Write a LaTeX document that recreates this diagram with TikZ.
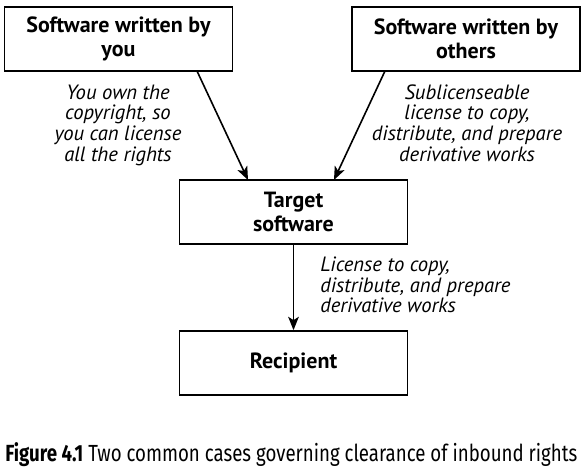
\documentclass[tikz,border=0pt]{standalone}
\usepackage{fontspec}
\setmainfont{PT Sans}
\newfontfamily\capfont[FakeStretch=0.8]{Fira Sans}
\usepackage{tikz}
\usetikzlibrary{arrows.meta}

\tikzset{
  srcbox/.style={draw, line width=1.3pt, minimum width=171pt, minimum height=48pt,
    align=center, font=\fontsize{16.5}{18}\selectfont\bfseries, inner sep=0pt},
  rights/.style={align=center, font=\fontsize{15.5}{15.5}\selectfont\itshape, inner sep=0pt},
  flow/.style={line width=1.2pt, -{Stealth[length=10pt,width=8pt,inset=2.5pt]}}
}

\begin{document}
\begin{tikzpicture}[x=0.75pt,y=-0.75pt]
    \useasboundingbox (0,0) rectangle (587,474);
    % boxes
    \node[srcbox] (you) at (118.5,39) {Software written by\\you};
    \node[srcbox] (others) at (466,39) {Software written by\\others};
    \node[srcbox] (target) at (293.5,212) {Target\\software};
    \node[srcbox] (recipient) at (293.5,363) {Recipient};
    % arrows
    \coordinate (youout) at (197,71);
    \coordinate (othersout) at (385,71);
    \draw[flow] (youout) -- (248,180);
    \draw[flow] (othersout) -- (334,180);
    \draw[flow] (target) -- (recipient);
    % rights labels
    \node[rights] (ownlabel) at (118,125) {You own the\\copyright, so\\you can license\\all the rights};
    \node[rights] (sublabel) at (467,123) {Sublicenseable\\license to copy,\\distribute, and prepare\\derivative works};
    \node[rights, align=left, anchor=west] (grantlabel) at (320,285) {License to copy,\\distribute, and prepare\\derivative works};
    % caption
    \node[anchor=west, inner sep=0pt, font=\fontsize{16.5}{18}\capfont] (caption) at (5,455)
      {\resizebox{429pt}{!}{\textbf{Figure 4.1} Two common cases governing clearance of inbound rights}};
  \end{tikzpicture}
\end{document}
